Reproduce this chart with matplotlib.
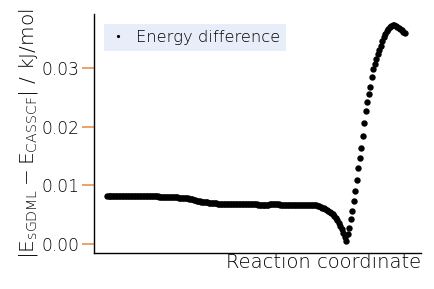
import matplotlib
matplotlib.use("Agg")
import matplotlib.pyplot as plt
import numpy as np

# energy difference along the reaction path (kJ/mol), one value per frame
energy_diff = [
    # flat start
    0.0081, 0.0081, 0.0081, 0.0081, 0.0081, 0.0081, 0.0081, 0.0081, 0.0082, 0.0082,
    0.0082, 0.0082, 0.0082, 0.0082, 0.0082, 0.0082, 0.0082, 0.0082, 0.0082, 0.0082,
    0.0082, 0.0082, 0.0081, 0.0081, 0.0081, 0.0081, 0.0081, 0.0081, 0.0081, 0.0081,
    0.0081, 0.0081, 0.0081, 0.0081, 0.0081, 0.0080, 0.0080, 0.0080, 0.0080, 0.0080,
    0.0080, 0.0080, 0.0080, 0.0080, 0.0080, 0.0080, 0.0080, 0.0080, 0.0079, 0.0079,
    0.0079, 0.0079, 0.0079, 0.0078, 0.0078, 0.0077, 0.0077, 0.0076, 0.0075, 0.0075,
    0.0074, 0.0073, 0.0073, 0.0072, 0.0072, 0.0071, 0.0071, 0.0071, 0.0070, 0.0070,
    0.0070, 0.0070, 0.0070, 0.0070, 0.0069, 0.0069, 0.0069, 0.0069, 0.0069, 0.0069,
    0.0069, 0.0069, 0.0069, 0.0069, 0.0069, 0.0068, 0.0068, 0.0068, 0.0068, 0.0068,
    0.0068, 0.0068, 0.0068, 0.0068, 0.0068, 0.0068, 0.0068, 0.0068, 0.0068, 0.0068,
    0.0068, 0.0067, 0.0067, 0.0067, 0.0067, 0.0067, 0.0067, 0.0067, 0.0067, 0.0068,
    0.0068, 0.0069, 0.0069, 0.0069, 0.0068, 0.0068, 0.0067, 0.0067, 0.0067, 0.0067,
    0.0067, 0.0067, 0.0067, 0.0067, 0.0067, 0.0067, 0.0067, 0.0067, 0.0067, 0.0066,
    0.0066, 0.0066, 0.0066, 0.0066, 0.0066, 0.0066, 0.0066, 0.0066, 0.0066, 0.0066,
    # drop into the minimum
    0.0066, 0.0065, 0.0064, 0.0063, 0.0062, 0.0061, 0.0060, 0.0058, 0.0057, 0.0055,
    0.0053, 0.0051, 0.0048, 0.0045, 0.0041, 0.0036, 0.0031, 0.0025, 0.0019, 0.0012,
    0.0006,
    # steep rise
    0.0017, 0.0028, 0.0042, 0.0057, 0.0073, 0.0090, 0.0109, 0.0129, 0.0147, 0.0164,
    0.0184, 0.0207, 0.0227, 0.0242, 0.0255, 0.0268, 0.0285, 0.0298, 0.0306, 0.0315,
    0.0323, 0.0331, 0.0338, 0.0346, 0.0352, 0.0358, 0.0363, 0.0366, 0.0369, 0.0372,
    0.0374, 0.0373, 0.0371, 0.0370, 0.0368, 0.0366, 0.0364, 0.0362, 0.0360,
]
frames = np.arange(len(energy_diff))

ytick_values = [0.00, 0.01, 0.02, 0.03]
ytick_labels = ["0.00", "0.01", "0.02", "0.03"]

TICK_COLOR = "#e8944a"
LEGEND_BG = "#e8eef9"
TEXT_COLOR = "black"

plt.rcParams["font.family"] = "DejaVu Sans"
plt.rcParams["font.weight"] = "light"
plt.rcParams["axes.labelweight"] = "light"
plt.rcParams["mathtext.fontset"] = "custom"
plt.rcParams["mathtext.rm"] = "DejaVu Sans:light"
plt.rcParams["mathtext.it"] = "DejaVu Sans:italic:light"
plt.rcParams["mathtext.bf"] = "DejaVu Sans:bold"

fig = plt.figure(figsize=(4.35, 2.89), dpi=100)
ax = fig.add_axes([94 / 435, 1 - 253 / 289, (421 - 94) / 435, (253 - 14) / 289])

ax.plot(frames, energy_diff, "o", color="k", markersize=4.6, markeredgewidth=0,
        label="Energy difference")

ax.set_xlim(-8.7, 210)
ax.set_ylim(-0.00153, 0.0392)

ax.set_yticks(ytick_values)
ax.set_yticklabels(ytick_labels, fontsize=12.3, color=TEXT_COLOR)
ax.set_xticks([])
ax.tick_params(axis="y", color=TICK_COLOR, length=8.5, width=1.2, pad=2)

for side in ["top", "right"]:
    ax.spines[side].set_visible(False)
for side in ["left", "bottom"]:
    ax.spines[side].set_linewidth(1.0)

ax.set_xlabel("Reaction coordinate", fontsize=14, loc="right", labelpad=0,
              color=TEXT_COLOR)
ax.set_ylabel(r"$|\mathrm{E_{sGDML}} - \mathrm{E_{CASSCF}}|$ / kJ/mol",
              fontsize=14.5, labelpad=1, color=TEXT_COLOR)

leg = ax.legend(loc="upper left", fontsize=11.8, markerscale=0.5, frameon=True,
                fancybox=False, borderpad=0.35, handlelength=1.0,
                handletextpad=0.6, borderaxespad=0,
                bbox_to_anchor=(0.031, 0.958), labelcolor=TEXT_COLOR)
leg.get_frame().set_facecolor(LEGEND_BG)
leg.get_frame().set_edgecolor("none")
leg.get_frame().set_alpha(1.0)

fig.savefig("out.png", dpi=100)
